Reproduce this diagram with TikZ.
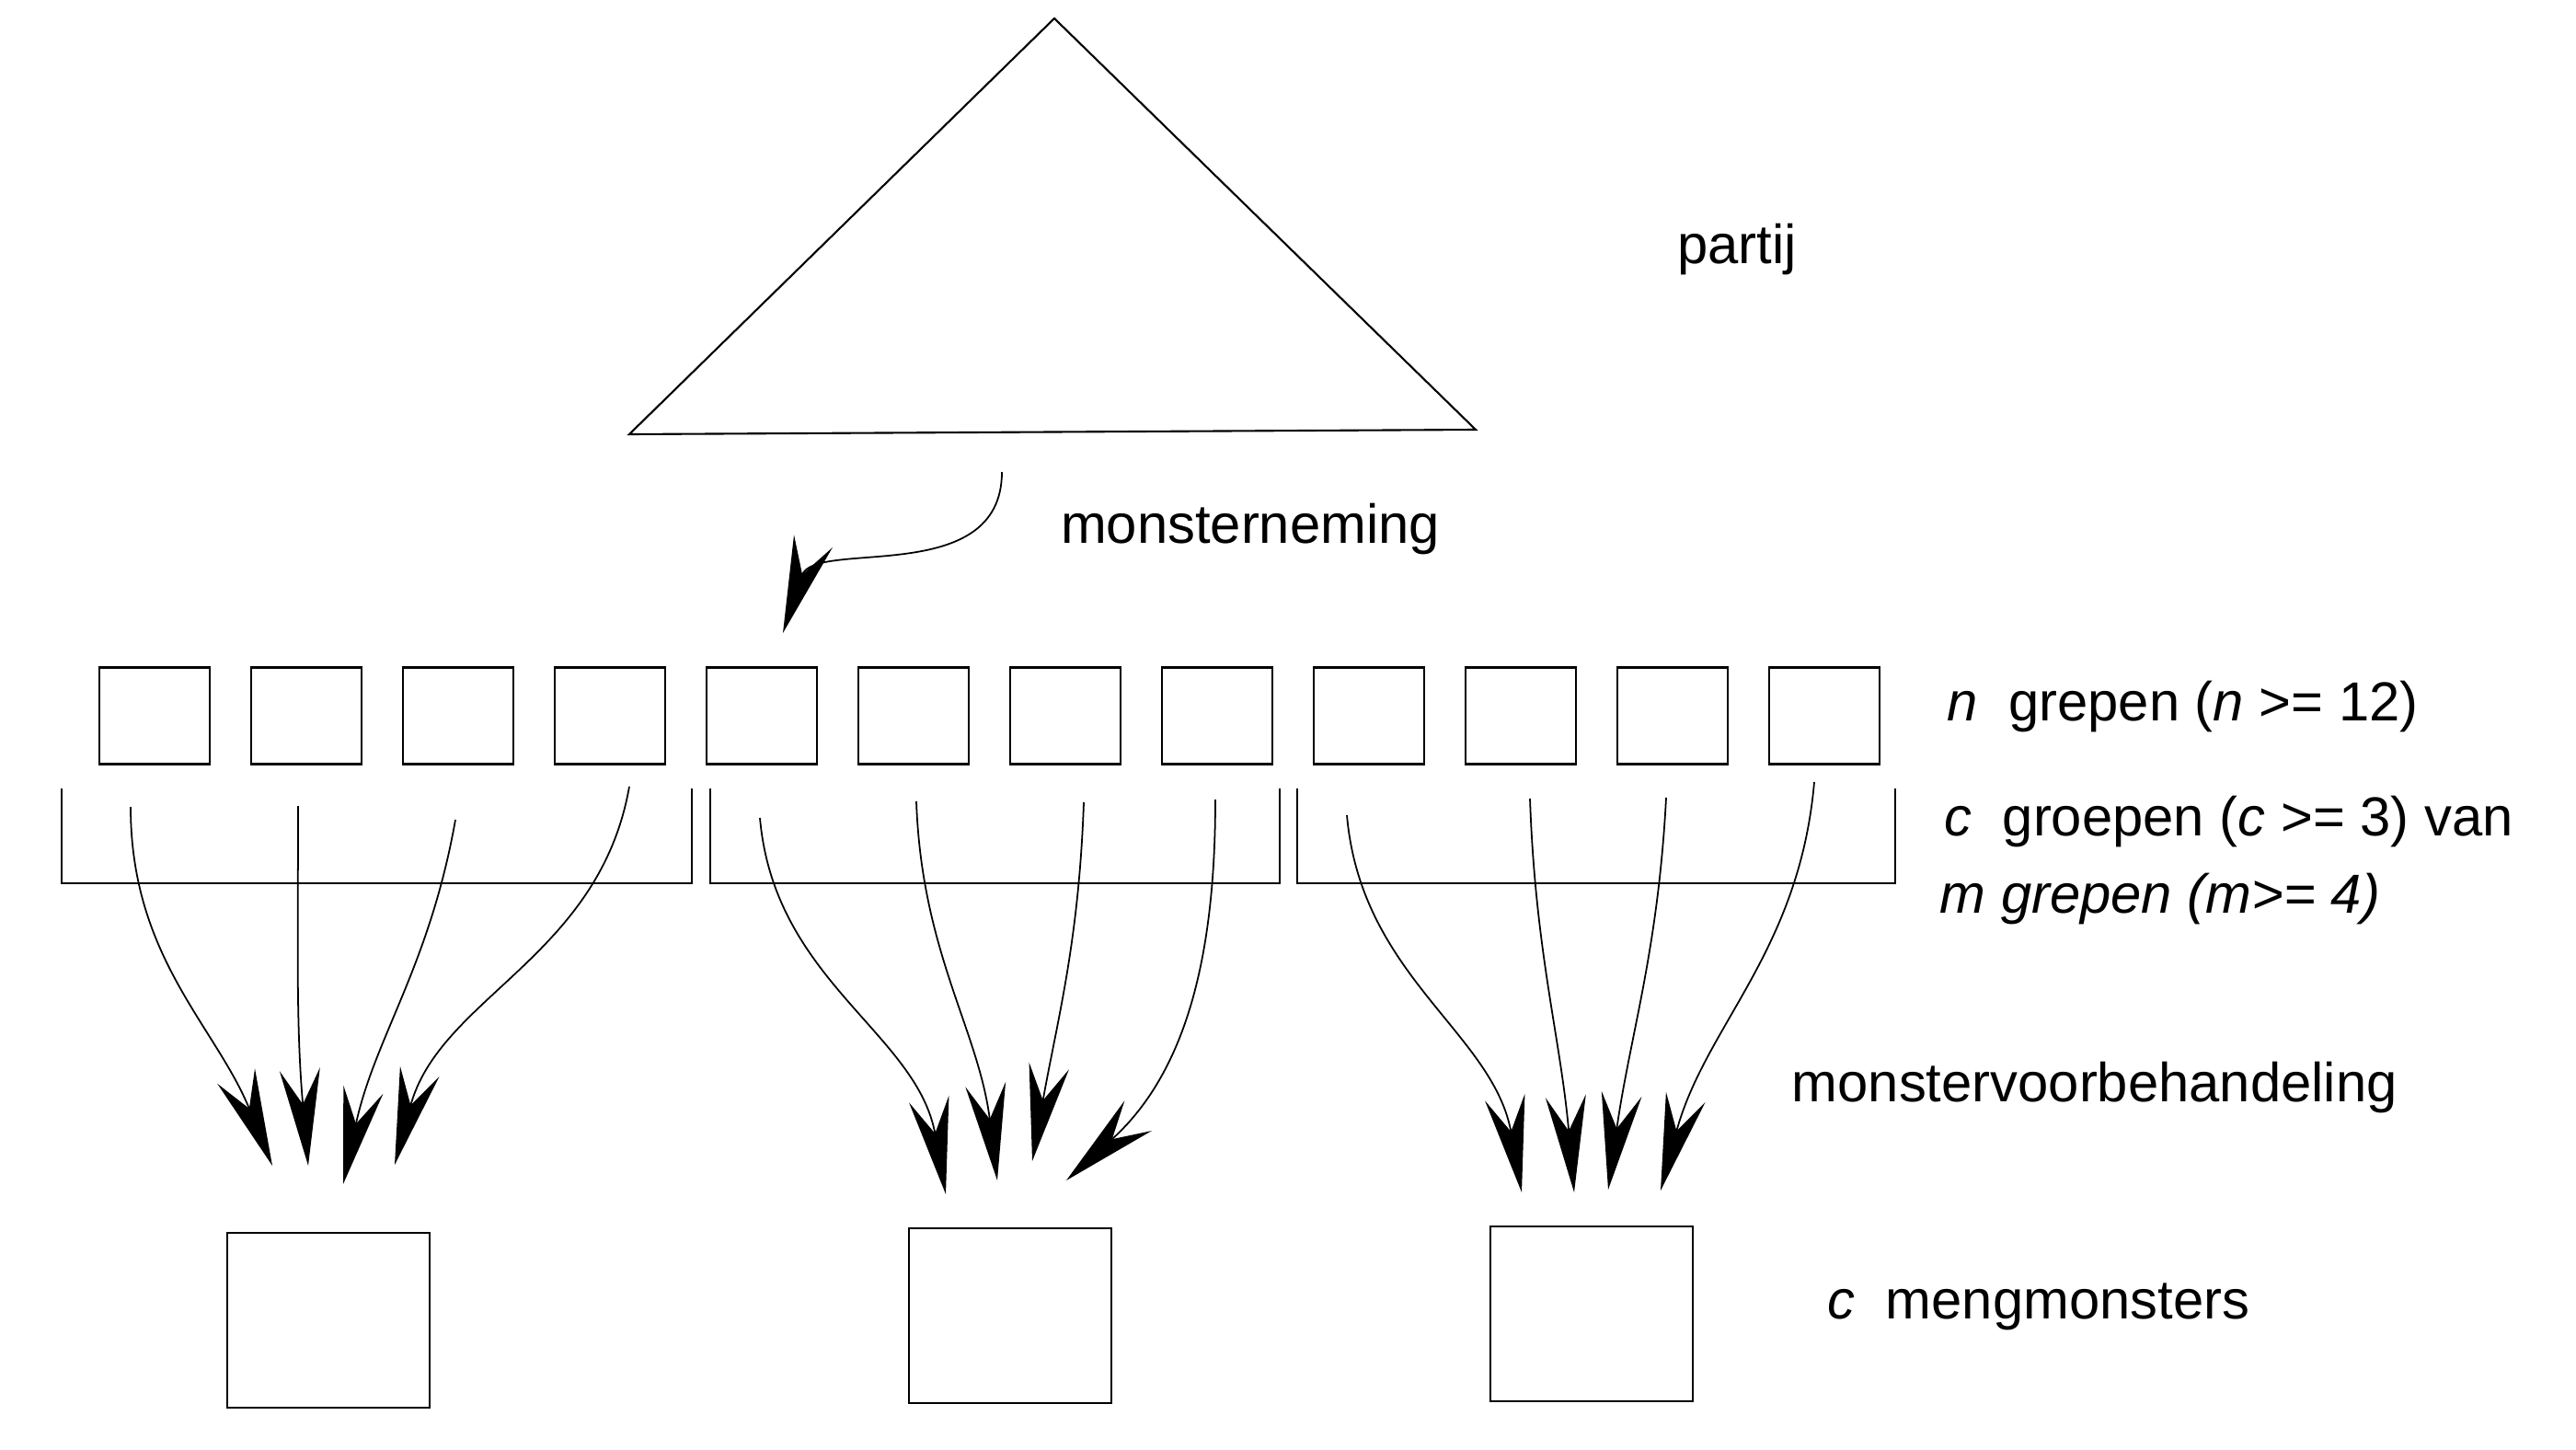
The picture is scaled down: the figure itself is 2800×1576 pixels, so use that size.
\documentclass[tikz,border=0pt]{standalone}
\usepackage{fontspec}
\setmainfont{Liberation Sans}
\usetikzlibrary{arrows.meta}
\tikzset{
  grepbox/.style={
    rectangle, draw=black, line width=0.8pt,
    minimum width=1.2cm, minimum height=1.05cm, inner sep=0pt
  },
  mengbox/.style={
    rectangle, draw=black, line width=0.7pt,
    minimum width=2.2cm, minimum height=1.9cm, inner sep=0pt
  },
  groep/.style={draw=black, line width=0.6pt},
  lbl/.style={font=\fontsize{17}{20}\selectfont, inner sep=0pt},
  arr/.style={-{Stealth[length=10.5mm, width=4.4mm, inset=3.8mm]}, line width=0.5pt, color=black},
}

\begin{document}
\begin{tikzpicture}[x=0.01cm, y=0.01cm]
    \useasboundingbox (0,0) rectangle (2800,-1576);

    \draw[line width=0.6pt] (1146,-20) coordinate (ptop) -- (1604,-467) coordinate (pright)
      -- (684,-472) coordinate (pleft) -- cycle;
    \node[lbl] (partij) at (1888,-271) {partij};

    \coordinate (nstart) at (1089,-513);
    \coordinate (ntip) at (851,-688);
    \draw[arr] (nstart) .. controls (1089,-640) and (885,-585) .. (ntip);
    \node[lbl] (neming) at (1359,-575) {monsterneming};

    \foreach \i in {1,...,12}
      \node[grepbox] (g\i) at ({168+165*(\i-1)},-778) {};

    \foreach \l/\r in {67/752, 772/1391, 1410/2060}
      \draw[groep] (\l,-857) -- (\l,-960) -- (\r,-960) -- (\r,-857);

    \node[mengbox] (m1) at (357,-1435) {};
    \node[mengbox] (m2) at (1098,-1430) {};
    \node[mengbox] (m3) at (1730,-1428) {};

    \foreach \k/\sx/\sy/\tx/\ty/\o/\n in {
        a1/142/-877/296/-1267/-90/112, a2/324/-876/335/-1267/-90/95,
        a3/495/-891/373/-1287/-100/78, a4/684/-855/429/-1266/-100/75,
        b1/826/-889/1028/-1298/-85/100, b2/996/-871/1084/-1283/-88/97,
        b3/1178/-872/1122/-1262/-92/80, b4/1321/-869/1159/-1283/-90/42,
        c1/1464/-886/1654/-1296/-85/100, c2/1663/-868/1711/-1296/-88/95,
        c3/1811/-867/1748/-1293/-93/82, c4/1972/-850/1805/-1294/-95/75}{
      \coordinate (s\k) at (\sx,\sy);
      \coordinate (t\k) at (\tx,\ty);
      \draw[arr] (s\k) to[out=\o, in=\n] (t\k);
    }

    \node[lbl, anchor=west] (ngrep) at (2116,-768) {\textit{n}\ \ grepen (\textit{n} >= 12)};
    \node[lbl, anchor=west] (cgroep) at (2113,-893) {\textit{c}\ \ groepen (\textit{c} >= 3) van};
    \node[lbl, anchor=west] (mgrep) at (2108,-977) {\textit{m grepen (m>= 4)}};
    \node[lbl, anchor=west] (voorbeh) at (1947,-1182) {monstervoorbehandeling};
    \node[lbl, anchor=west] (meng) at (1986,-1420) {\textit{c}\ \ mengmonsters};
  \end{tikzpicture}
\end{document}
